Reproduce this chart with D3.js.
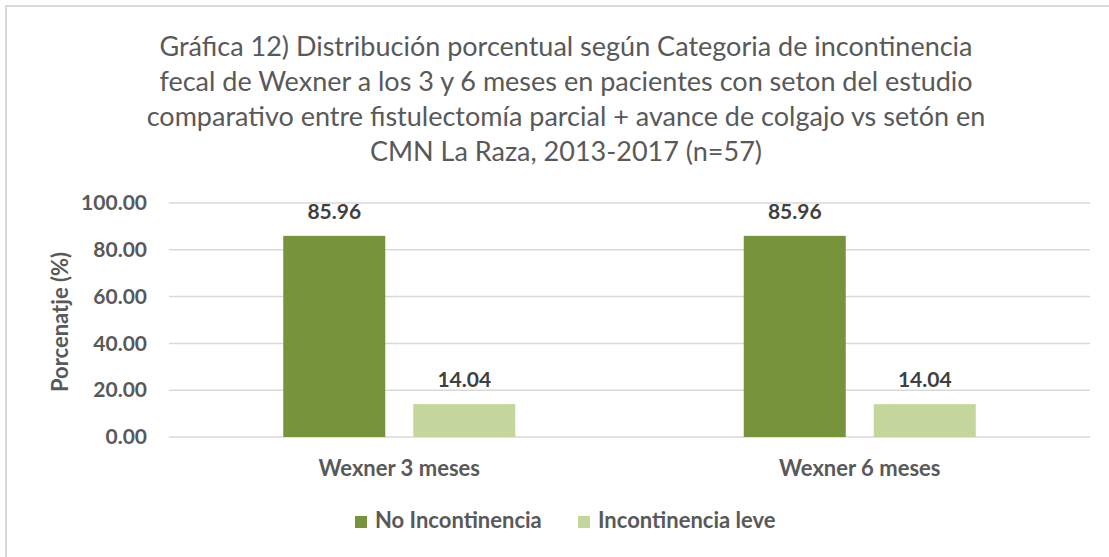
<!DOCTYPE html>
<html>
<head>
<meta charset="utf-8">
<script src="https://cdn.jsdelivr.net/npm/d3@7"></script>
<style>
  body { margin: 0; background: #fff; }
  svg { display: block; font-family: Lato, "Open Sans", sans-serif; }
</style>
</head>
<body>
<svg id="chart" width="1109" height="557"></svg>
<script>
const titleLines = [
  'Gráfica 12) Distribución porcentual según Categoria de incontinencia',
  'fecal de Wexner a los 3 y 6 meses en pacientes con seton del estudio',
  'comparativo entre fistulectomía parcial + avance de colgajo vs setón en',
  'CMN La Raza, 2013-2017 (n=57)'
]
const categories = ['Wexner 3 meses', 'Wexner 6 meses']
const seriesNames = ['No Incontinencia', 'Incontinencia leve']
const noIncontinencia = [85.96, 85.96]
const incontinenciaLeve = [14.04, 14.04]
const yTicks = [0, 20, 40, 60, 80, 100]
const colors = ['#77933c', '#c3d69b']

const svg = d3.select('#chart')
const margin = { left: 169, right: 19, top: 203, bottom: 120 }
const width = 1109 - margin.left - margin.right
const height = 557 - margin.top - margin.bottom

// frame
svg.append('rect')
  .attr('x', 6).attr('y', 6)
  .attr('width', 1120).attr('height', 570)
  .attr('fill', 'none')
  .attr('stroke', '#d9d9d9')
  .attr('stroke-width', 2)

// title
svg.append('g')
  .selectAll('text')
  .data(titleLines)
  .enter()
  .append('text')
  .attr('x', 566)
  .attr('y', (d, i) => 56 + i * 35)
  .attr('text-anchor', 'middle')
  .attr('fill', '#595959')
  .style('font-size', '27px')
  .text(d => d)

const x0 = d3.scaleBand().domain(categories).range([0, width])
const y = d3.scaleLinear().domain([0, 100]).range([height, 0])

const g = svg.append('g').attr('transform', `translate(${margin.left},${margin.top})`)

// gridlines
g.append('g')
  .selectAll('line')
  .data(yTicks)
  .enter()
  .append('line')
  .attr('x1', 0).attr('x2', width)
  .attr('y1', d => y(d)).attr('y2', d => y(d))
  .attr('stroke', '#d9d9d9')
  .attr('stroke-width', 1.5)

// y axis labels
const yAxis = d3.axisLeft(y).tickValues(yTicks).tickFormat(d3.format('.2f')).tickSize(0).tickPadding(22)
g.append('g').call(yAxis)
  .call(a => a.select('.domain').remove())
  .selectAll('text')
  .attr('fill', '#595959')
  .style('font-size', '21px')
  .style('font-weight', 'bold')
  .style('font-family', 'Lato, sans-serif')

// x axis labels
const xAxis = d3.axisBottom(x0).tickSize(0).tickPadding(23)
g.append('g').attr('transform', `translate(0,${height})`).call(xAxis)
  .call(a => a.select('.domain').remove())
  .selectAll('text')
  .attr('fill', '#595959')
  .style('font-size', '22px')
  .style('font-weight', 'bold')
  .style('font-family', 'Lato, sans-serif')

// bars
const barW = 102
const barGap = 28
const series = [noIncontinencia, incontinenciaLeve]
const x1 = d3.scaleBand().domain(seriesNames).range([-(barW * 2 + barGap) / 2, (barW * 2 + barGap) / 2]).paddingInner(barGap / (barW + barGap))

const bars = []
categories.forEach((c, ci) => {
  seriesNames.forEach((s, si) => {
    bars.push({ cat: c, name: s, value: series[si][ci], color: colors[si] })
  })
})

g.append('g')
  .selectAll('rect')
  .data(bars)
  .enter()
  .append('rect')
  .attr('x', d => x0(d.cat) + x0.bandwidth() / 2 + x1(d.name))
  .attr('y', d => y(d.value))
  .attr('width', x1.bandwidth())
  .attr('height', d => height - y(d.value))
  .attr('fill', d => d.color)

g.append('g')
  .selectAll('text')
  .data(bars)
  .enter()
  .append('text')
  .attr('x', d => x0(d.cat) + x0.bandwidth() / 2 + x1(d.name) + x1.bandwidth() / 2)
  .attr('y', d => y(d.value) - 17)
  .attr('text-anchor', 'middle')
  .attr('fill', '#404040')
  .style('font-size', '21px')
  .style('font-weight', 'bold')
  .text(d => d3.format('.2f')(d.value))

// y axis title
svg.append('text')
  .attr('transform', 'translate(68,322) rotate(-90)')
  .attr('text-anchor', 'middle')
  .attr('fill', '#595959')
  .style('font-size', '22px')
  .style('font-weight', 'bold')
  .text('Porcenatje (%)')

// legend
const legendX = [355, 578]
const legend = svg.append('g')
  .selectAll('g')
  .data(seriesNames)
  .enter()
  .append('g')
  .attr('transform', (d, i) => `translate(${legendX[i]},516)`)
legend.append('rect')
  .attr('width', 12).attr('height', 12)
  .attr('fill', (d, i) => colors[i])
legend.append('text')
  .attr('x', 20).attr('y', 12)
  .attr('fill', '#595959')
  .style('font-size', '22px')
  .style('font-weight', 'bold')
  .text(d => d)
</script>
</body>
</html>
